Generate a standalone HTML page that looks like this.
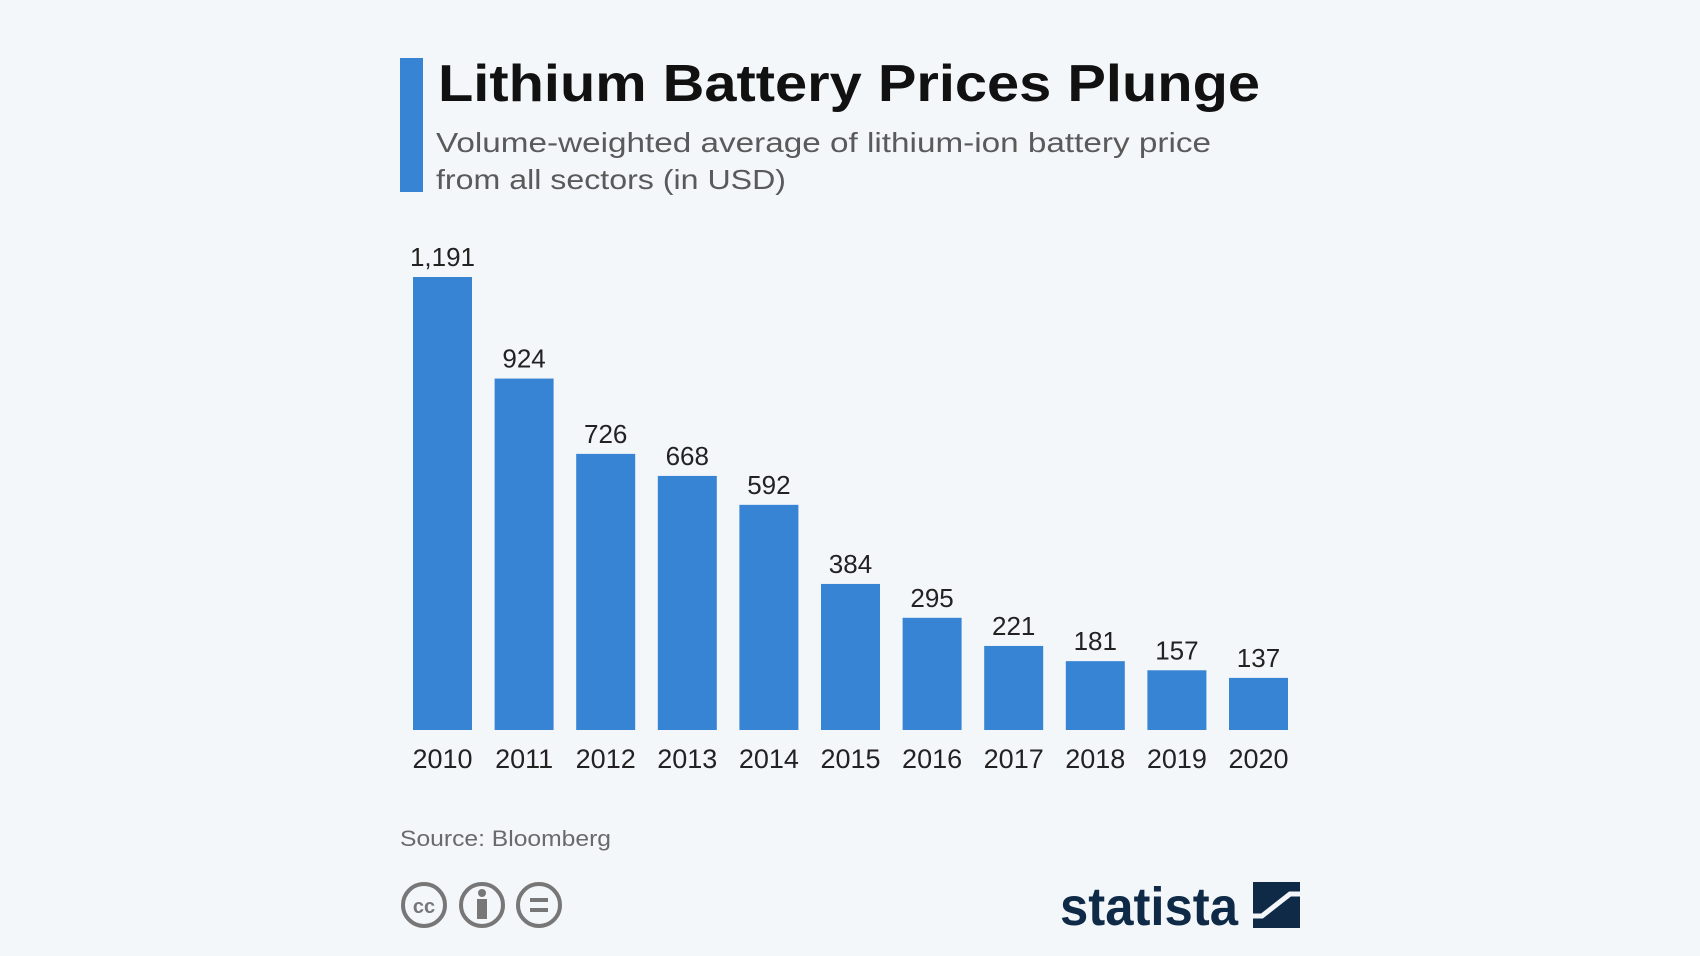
<!DOCTYPE html>
<html><head><meta charset="utf-8"><style>
html,body{margin:0;padding:0;background:#f4f7fa;}
svg{display:block;font-family:"Liberation Sans",sans-serif;}
</style></head><body>
<svg width="1700" height="956" viewBox="0 0 1700 956">
<rect width="1700" height="956" fill="#f4f7fa"/>
<rect x="400" y="58" width="23" height="134" fill="#3784d4"/>
<text x="438" y="101" font-size="52" font-weight="bold" fill="#111" textLength="822" lengthAdjust="spacingAndGlyphs">Lithium Battery Prices Plunge</text>
<text x="436" y="152" font-size="28" fill="#5a5a5a" textLength="775" lengthAdjust="spacingAndGlyphs">Volume-weighted average of lithium-ion battery price</text>
<text x="436" y="189" font-size="28" fill="#5a5a5a" textLength="350" lengthAdjust="spacingAndGlyphs">from all sectors (in USD)</text>
<g id="bars"></g>
<text x="400" y="846" font-size="22" fill="#6a6a6a" textLength="211" lengthAdjust="spacingAndGlyphs">Source: Bloomberg</text>
<g fill="none" stroke="#777" stroke-width="4">
<circle cx="424" cy="905" r="21"/>
<text x="424" y="913" font-size="20" font-weight="bold" fill="#777" stroke="none" text-anchor="middle">cc</text>
<circle cx="482" cy="905" r="21"/>
<circle cx="482" cy="893" r="4" fill="#777" stroke="none"/>
<rect x="477" y="899" width="10" height="20" fill="#777" stroke="none"/>
<circle cx="539" cy="905" r="21"/>
<line x1="530" y1="900" x2="548" y2="900"/><line x1="530" y1="910" x2="548" y2="910"/>
</g>
<g>
<text x="1060" y="925" font-size="54" font-weight="bold" fill="#0f2a47" textLength="178" lengthAdjust="spacingAndGlyphs">statista</text>
<rect x="1253" y="882" width="47" height="46" fill="#0f2a47"/>
<path d="M1253 916 L1262 916 L1290 894 L1300 894" fill="none" stroke="#f4f7fa" stroke-width="5"/>
</g>
</svg>
<script>
const categories=["2010","2011","2012","2013","2014","2015","2016","2017","2018","2019","2020"];
const values=[1191,924,726,668,592,384,295,221,181,157,137];
const valueLabels=["1,191","924","726","668","592","384","295","221","181","157","137"];
const NS="http://www.w3.org/2000/svg";
const g=document.getElementById('bars');
const baseY=730, topY=277, maxV=1191, x0=413, pitch=81.6, bw=59;
function y(v){return baseY-(v/maxV)*(baseY-topY);}
function x(i){return x0+i*pitch;}
categories.forEach((c,i)=>{
  const r=document.createElementNS(NS,'rect');
  r.setAttribute('x',x(i));r.setAttribute('y',y(values[i]));
  r.setAttribute('width',bw);r.setAttribute('height',baseY-y(values[i]));
  r.setAttribute('fill','#3784d4');
  
  
  g.appendChild(r);
  const t=document.createElementNS(NS,'text');
  t.setAttribute('x',x(i)+bw/2);t.setAttribute('y',y(values[i])-11);
  t.setAttribute('text-anchor','middle');t.setAttribute('font-size','26');t.setAttribute('fill','#222');
  t.textContent=valueLabels[i];
  
  
  g.appendChild(t);
  const l=document.createElementNS(NS,'text');
  l.setAttribute('x',x(i)+bw/2);l.setAttribute('y',768);
  l.setAttribute('text-anchor','middle');l.setAttribute('font-size','27');l.setAttribute('fill','#222');
  l.textContent=c;
  
  
  g.appendChild(l);
});
</script>
</body></html>
